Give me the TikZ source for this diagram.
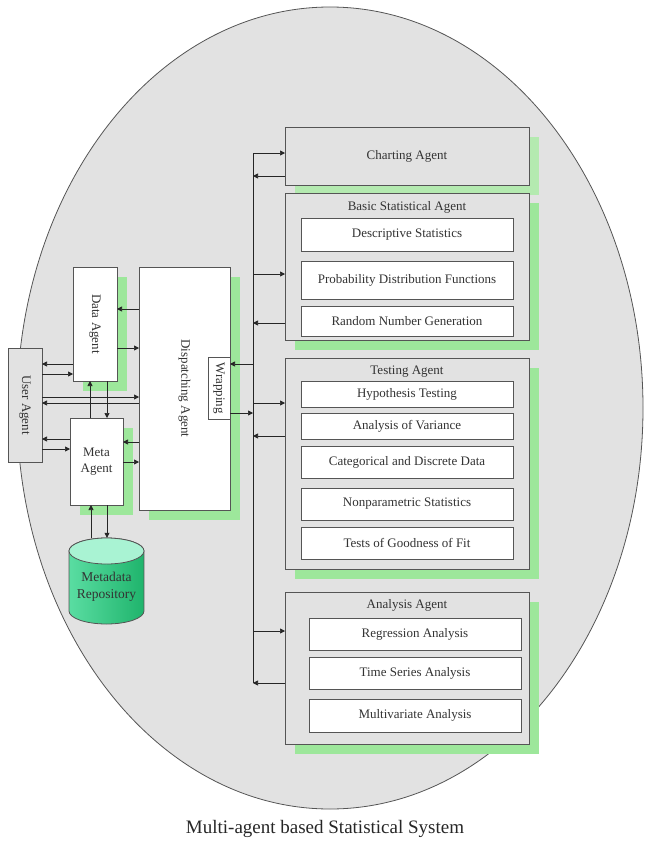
\documentclass[tikz,border=0pt]{standalone}
\usepackage{fontspec}
\setmainfont{Liberation Serif}
\usepackage{graphicx}
\usetikzlibrary{arrows.meta,shadows}
\definecolor{bg}{HTML}{E2E2E2}
\definecolor{edge}{HTML}{555555}
\definecolor{shg}{HTML}{9DE79B}
\definecolor{shgl}{HTML}{B4EAB0}
\definecolor{cylL}{HTML}{5ADDA2}
\definecolor{cylR}{HTML}{1FB46C}
\definecolor{cylT}{HTML}{A9F3D3}
\definecolor{txt}{HTML}{333333}
\begin{document}
\begin{tikzpicture}[x=1pt,y=-1pt,
  base/.style={draw=edge, line width=0.9pt, inner sep=0pt, outer sep=0pt, text=txt,
               font=\fontsize{13}{15.5}\selectfont, align=center},
  agent/.style={base, fill=bg},
  inbox/.style={base, fill=white},
  gsh/.style={drop shadow={shadow xshift=10pt, shadow yshift=-10pt, fill=shg, opacity=1}},
  gshl/.style={drop shadow={shadow xshift=10pt, shadow yshift=-10pt, fill=shgl, opacity=1}},
  title/.style={inner sep=0pt, text=txt, font=\fontsize{13}{15.5}\selectfont},
  arr/.style={-{Triangle[length=5pt,width=5pt]}, line width=0.7pt, draw=black!85},
  line/.style={line width=0.7pt, draw=black!85}
]
\useasboundingbox (0,0) rectangle (645,843);
% background ellipse
\draw[fill=bg, draw=edge, line width=0.8pt] (330,408) ellipse [x radius=313, y radius=401];

% left-hand agents
\node[agent, minimum width=34pt, minimum height=114pt] (ua) at (25,405) {\rotatebox{-90}{User Agent}};
\node[inbox, gsh, minimum width=44pt, minimum height=114pt] (da) at (95,324) {\rotatebox{-90}{Data Agent}};
\node[inbox, gsh, minimum width=53pt, minimum height=87pt] (ma) at (96.5,461.5) {Meta\\Agent};
\node[inbox, gsh, minimum width=91pt, minimum height=243pt] (dis) at (184.5,388.5) {\rotatebox{-90}{Dispatching Agent}};
\node[inbox, minimum width=22pt, minimum height=62pt] (wr) at (219,388) {\rotatebox{-90}{Wrapping}};

% metadata repository (cylinder)
\shade[left color=cylL, right color=cylR, draw=edge, line width=0.8pt]
  (69,551) -- (69,611) arc[start angle=180, end angle=0, x radius=37.5, y radius=13]
  -- (144,551) arc[start angle=360, end angle=180, x radius=37.5, y radius=13] -- cycle;
\draw[fill=cylT, draw=edge, line width=0.8pt] (106.5,551) ellipse [x radius=37.5, y radius=13];
\node[inner sep=0pt, minimum width=75pt, minimum height=86pt] (repo) at (106.5,581) {};
\node[inner sep=0pt, align=center, text=black!80, font=\fontsize{13.5}{17}\selectfont] (repot) at (106.5,587) {Metadata\\Repository};

% right-hand agents
\node[agent, gshl, minimum width=244pt, minimum height=58pt] (ch) at (407,156) {Charting Agent};

\node[agent, gsh, minimum width=244pt, minimum height=147pt] (bs) at (407,266.5) {};
\node[title] (bst) at (407,207) {Basic Statistical Agent};
\node[inbox, minimum width=212pt, minimum height=33pt] (ds) at (407,234.5) {Descriptive Statistics};
\node[inbox, minimum width=212pt, minimum height=38pt] (pdf) at (407,280) {Probability Distribution Functions};
\node[inbox, minimum width=212pt, minimum height=30pt] (rng) at (407,321) {Random Number Generation};

\node[agent, gsh, minimum width=244pt, minimum height=211pt] (ta) at (407,463.5) {};
\node[title] (tat) at (407,372) {Testing Agent};
\node[inbox, minimum width=212pt, minimum height=26pt] (ht) at (407,394) {Hypothesis Testing};
\node[inbox, minimum width=212pt, minimum height=26pt] (av) at (407,426) {Analysis of Variance};
\node[inbox, minimum width=212pt, minimum height=32pt] (cd) at (407,462) {Categorical and Discrete Data};
\node[inbox, minimum width=212pt, minimum height=32pt] (np) at (407,504) {Nonparametric Statistics};
\node[inbox, minimum width=212pt, minimum height=32pt] (gf) at (407,543) {Tests of Goodness of Fit};

\node[agent, gsh, minimum width=244pt, minimum height=152pt] (aa) at (407,668) {};
\node[title] (aat) at (407,605) {Analysis Agent};
\node[inbox, minimum width=212pt, minimum height=32pt] (ra) at (415,634) {Regression Analysis};
\node[inbox, minimum width=212pt, minimum height=32pt] (ts) at (415,673) {Time Series Analysis};
\node[inbox, minimum width=212pt, minimum height=33pt] (mv) at (415,715.5) {Multivariate Analysis};

% bus
\coordinate (bustop) at (253,153);
\coordinate (busbot) at (253,683);
\draw[line] (bustop) -- (busbot);

% bus connectors
\draw[arr] (bustop |- 0,153) -- (ch.west |- 0,153);
\draw[arr] (ch.west |- 0,176) -- (bustop |- 0,176);
\draw[arr] (bustop |- 0,274) -- (bs.west |- 0,274);
\draw[arr] (bs.west |- 0,323) -- (bustop |- 0,323);
\draw[arr] (bustop |- 0,364) -- (wr.east |- 0,364);
\draw[arr] (wr.east |- 0,413) -- (bustop |- 0,413);
\draw[arr] (bustop |- 0,403) -- (ta.west |- 0,403);
\draw[arr] (ta.west |- 0,436) -- (bustop |- 0,436);
\draw[arr] (bustop |- 0,631) -- (aa.west |- 0,631);
\draw[arr] (aa.west |- 0,683) -- (bustop |- 0,683);

% left-side connectors
\draw[arr] (da.west |- 0,364) -- (ua.east |- 0,364);
\draw[arr] (ua.east |- 0,374) -- (da.west |- 0,374);
\draw[arr] (ua.east |- 0,397) -- (dis.west |- 0,397);
\draw[arr] (dis.west |- 0,403) -- (ua.east |- 0,403);
\draw[arr] (ma.west |- 0,439) -- (ua.east |- 0,439);
\draw[arr] (ua.east |- 0,449) -- (ma.west |- 0,449);
\draw[arr] (ma.north -| 90,0) -- (da.south -| 90,0);
\draw[arr] (da.south -| 107,0) -- (ma.north -| 107,0);
\draw[arr] (dis.west |- 0,309) -- (da.east |- 0,309);
\draw[arr] (da.east |- 0,348) -- (dis.west |- 0,348);
\draw[arr] (dis.west |- 0,442) -- (ma.east |- 0,442);
\draw[arr] (ma.east |- 0,462) -- (dis.west |- 0,462);
\draw[arr] (repo.north -| 91,0) -- (ma.south -| 91,0);
\draw[arr] (ma.south -| 107,0) -- (repo.north -| 107,0);

% caption
\node[inner sep=0pt, text=black!85, font=\fontsize{19}{22}\selectfont] (cap) at (325,829) {Multi-agent based Statistical System};
\end{tikzpicture}
\end{document}
